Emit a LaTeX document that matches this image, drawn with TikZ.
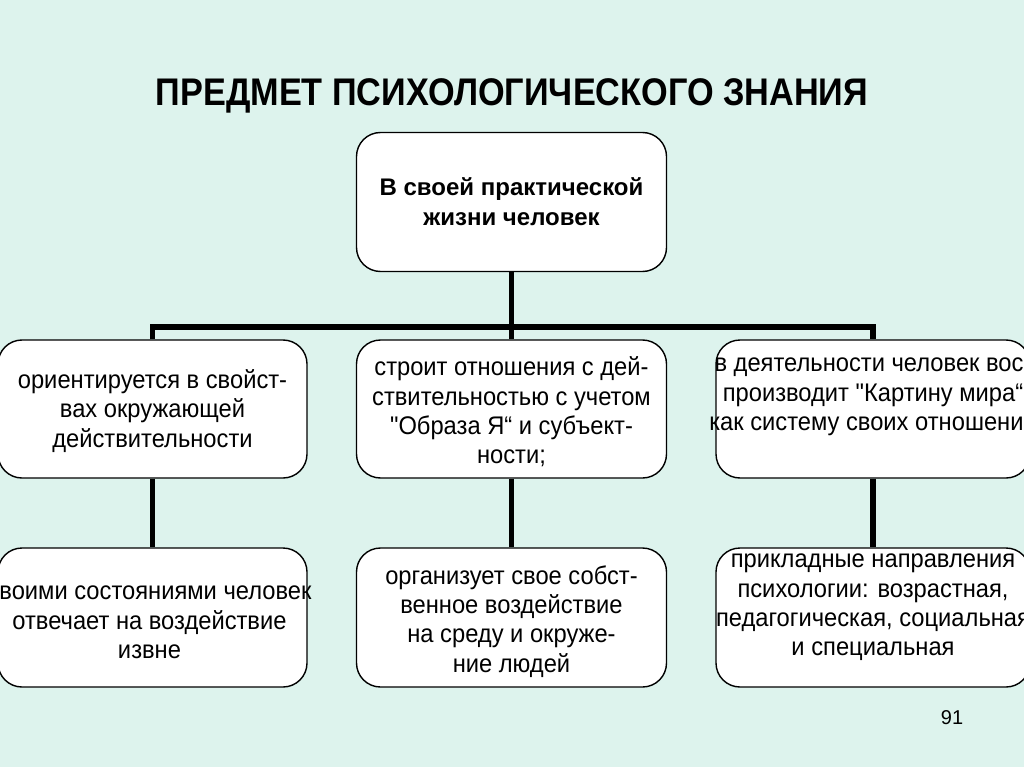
\documentclass[tikz,border=0pt]{standalone}
\usepackage{fontspec}
\setmainfont{Liberation Sans}
\newfontfamily\titlefont[FakeStretch=0.89]{Liberation Sans}
\newfontfamily\bodyfont[FakeStretch=0.93, Ligatures=ResetAll]{Liberation Sans}
\definecolor{bgmint}{RGB}{221,243,237}
\begin{document}
\begin{tikzpicture}[x=1pt,y=-1pt,
  box/.style={draw=black, line width=1.4pt, fill=white, rounded corners=24pt, inner sep=0pt},
  txt/.style={align=center, inner sep=0pt, font=\bodyfont\fontsize{25.5}{29.3}\selectfont},
  txtb/.style={align=center, inner sep=0pt, font=\fontsize{24}{30}\selectfont\bfseries},
  conn/.style={line width=5.5pt, black}
]
\fill[bgmint] (0,0) rectangle (1024,767);
\useasboundingbox (0,0) rectangle (1024,767);

\node[font=\titlefont\bfseries\fontsize{38.5}{42}\selectfont, inner sep=0pt] (title) at (512,95.5) {ПРЕДМЕТ ПСИХОЛОГИЧЕСКОГО ЗНАНИЯ};

% boxes
\node[box, minimum width=310pt, minimum height=139pt] (t) at (511.5,202) {};
\node[box, minimum width=309pt, minimum height=138pt] (m1) at (152.5,409) {};
\node[box, minimum width=310pt, minimum height=138pt] (m2) at (511.5,409) {};
\node[box, minimum width=314pt, minimum height=138pt] (m3) at (873,409) {};
\node[box, minimum width=309pt, minimum height=139pt] (b1) at (152.5,617.5) {};
\node[box, minimum width=310pt, minimum height=139pt] (b2) at (511.5,617.5) {};
\node[box, minimum width=314pt, minimum height=139pt] (b3) at (873,617.5) {};

% connectors
\coordinate (bar) at (512,327);
\draw[conn] (t.south) -- (m2.north);
\draw[conn] (m1.north) -- (m1.north |- bar) -- (m3.north |- bar) -- (m3.north);
\draw[conn] (m1.south) -- (b1.north);
\draw[conn] (m2.south) -- (b2.north);
\draw[conn] (m3.south) -- (b3.north);

% texts
\node[txtb] (tt) at (t.center) {В своей практической\\жизни человек};
\node[txt] (m1t) at ([yshift=-2pt]m1.center) {ориентируется в свойст-\\вах окружающей\\действительности};
\node[txt] (m2t) at ([yshift=-3pt]m2.center) {строит отношения с дей-\\ствительностью с учетом\\"Образа Я“ и субъект-\\ности;};
\node[txt] (m3t) at ([yshift=12pt]m3.center) {в деятельности человек вос-\\производит "Картину мира“\\как систему своих отношений};
\node[txt] (b1t) at ([xshift=-3pt,yshift=-5pt]b1.center) {своими состояниями человек\\отвечает на воздействие\\извне};
\node[txt] (b2t) at ([yshift=-4pt]b2.center) {организует свое собст-\\венное воздействие\\на среду и окруже-\\ние людей};
\node[txt] (b3t) at ([yshift=10pt]b3.center) {прикладные направления\\психологии: возрастная,\\педагогическая, социальная\\и специальная};

\node[font=\fontsize{20}{24}\selectfont, inner sep=0pt] (page) at (952,718) {91};
\end{tikzpicture}
\end{document}
